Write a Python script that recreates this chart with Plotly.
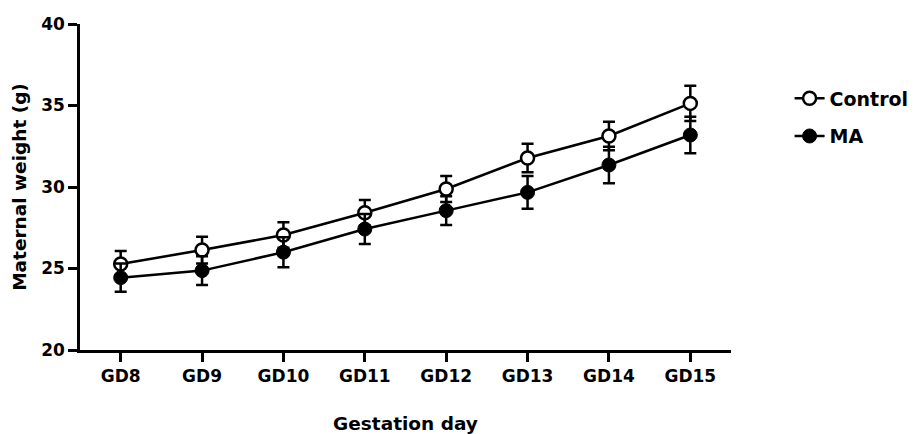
import plotly.graph_objects as go

days = ["GD8", "GD9", "GD10", "GD11", "GD12", "GD13", "GD14", "GD15"]
control_mean = [25.28, 26.13, 27.05, 28.42, 29.88, 31.78, 33.13, 35.13]
control_err = [0.80, 0.82, 0.78, 0.78, 0.80, 0.88, 0.88, 1.08]
ma_mean = [24.44, 24.87, 26.00, 27.42, 28.55, 29.67, 31.35, 33.19]
ma_err = [0.86, 0.88, 0.92, 0.92, 0.88, 1.00, 1.12, 1.12]

FONT = "DejaVu Sans"

fig = go.Figure()
fig.add_trace(go.Scatter(
    x=days, y=control_mean, name="Control", mode="lines+markers",
    line=dict(color="black", width=2.5),
    marker=dict(symbol="circle", size=13, color="white", line=dict(color="black", width=2.5)),
    error_y=dict(type="data", array=control_err, visible=True, color="black", thickness=2.5, width=6),
    legendgroup="a",
))
fig.add_trace(go.Scatter(
    x=days, y=ma_mean, name="MA", mode="lines+markers",
    line=dict(color="black", width=2.5),
    marker=dict(symbol="circle", size=14, color="black", line=dict(color="black", width=1)),
    error_y=dict(type="data", array=ma_err, visible=True, color="black", thickness=2.5, width=6),
    legendgroup="b",
))

fig.update_layout(
    width=910, height=426,
    margin=dict(l=72, r=187, t=16, b=84, autoexpand=False),
    plot_bgcolor="white", paper_bgcolor="white",
    font=dict(family=FONT, color="black", size=17),
    showlegend=True,
    legend=dict(x=1.09, y=0.83, xanchor="left", yanchor="top",
                font=dict(family=FONT, size=19, color="black", weight="bold"),
                tracegroupgap=10, bgcolor="rgba(0,0,0,0)"),
    xaxis=dict(
        range=[-0.5, 7.5], showline=True, linecolor="black", linewidth=2.5,
        ticks="outside", ticklen=9, tickwidth=2.5, tickcolor="black",
        showgrid=False, zeroline=False, automargin=False,
        tickfont=dict(family=FONT, size=17, color="black", weight="bold"),
        title=dict(text="Gestation day", standoff=33,
                   font=dict(family=FONT, size=18.5, color="black", weight="bold")),
    ),
    yaxis=dict(
        range=[20, 40], tickvals=[20, 25, 30, 35, 40], showline=True, linecolor="black", linewidth=2.5,
        ticks="outside", ticklen=9, tickwidth=2.5, tickcolor="black",
        showgrid=False, zeroline=False, automargin=False,
        tickfont=dict(family=FONT, size=17, color="black", weight="bold"),
        title=dict(text="Maternal weight (g)", standoff=10,
                   font=dict(family=FONT, size=18.5, color="black", weight="bold")),
    ),
)

fig.write_html("out.html")
